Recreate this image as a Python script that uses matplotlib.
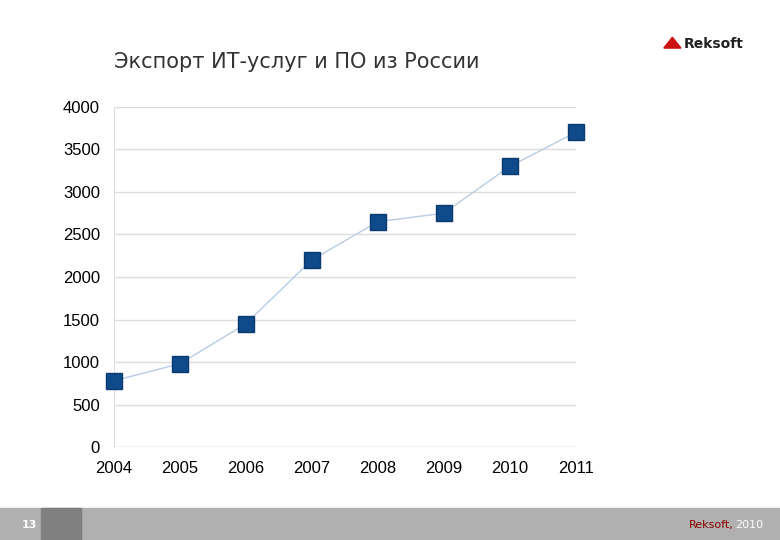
import matplotlib.pyplot as plt
from matplotlib.patches import Rectangle, Polygon

years = [2004, 2005, 2006, 2007, 2008, 2009, 2010, 2011]
export = [780, 980, 1450, 2200, 2650, 2750, 3300, 3700]
yticks = [0, 500, 1000, 1500, 2000, 2500, 3000, 3500, 4000]

fig = plt.figure(figsize=(7.8, 5.4), dpi=100)
ax = fig.add_axes([0.146, 0.172, 0.592, 0.63])
ax.plot(years, export, color="#b8cce4", linewidth=1, zorder=2)
ax.plot(years, export, linestyle="none", marker="s", markersize=11,
        color="#0f4a8a", markeredgecolor="#0a3a70", clip_on=False, zorder=3)
ax.set_xlim(2004, 2011)
ax.set_ylim(0, 4000)
ax.set_yticks(yticks)
ax.set_xticks(years)
ax.grid(axis="y", color="#dddddd", linewidth=1)
ax.set_axisbelow(True)
for s in ["top", "right", "bottom"]:
    ax.spines[s].set_visible(False)
ax.spines["left"].set_color("#dddddd")
ax.tick_params(length=0, labelsize=12, pad=10)
for lbl in ax.get_xticklabels() + ax.get_yticklabels():
    lbl.set_family("Liberation Sans")
ax.axhline(0, color="#dddddd", linewidth=1)

fig.text(0.146, 0.885, "Экспорт ИТ-услуг и ПО из России", fontsize=15,
         color="#333333", family="DejaVu Sans", ha="left", va="center")

# logo
fig.patches.append(Polygon([[0.851, 0.911], [0.862, 0.931], [0.873, 0.911]],
                           closed=True, transform=fig.transFigure, color="#cc1111"))
fig.text(0.876, 0.918, "Reksoft", fontsize=10, fontweight="bold", color="#222222",
         ha="left", va="center")

# footer
fig.patches.append(Rectangle((0, 0), 1, 0.06, transform=fig.transFigure,
                             color="#b0b0b0", zorder=0))
fig.patches.append(Rectangle((0.052, 0), 0.052, 0.06, transform=fig.transFigure,
                             color="#808080", zorder=1))
fig.text(0.038, 0.028, "13", fontsize=8, color="white", fontweight="bold",
         ha="center", va="center")
fig.text(0.978, 0.028, "2010", fontsize=8, color="white", ha="right", va="center")
fig.text(0.941, 0.028, "Reksoft,", fontsize=8, color="#8b0000", ha="right", va="center")

fig.savefig("out.png", dpi=100)
